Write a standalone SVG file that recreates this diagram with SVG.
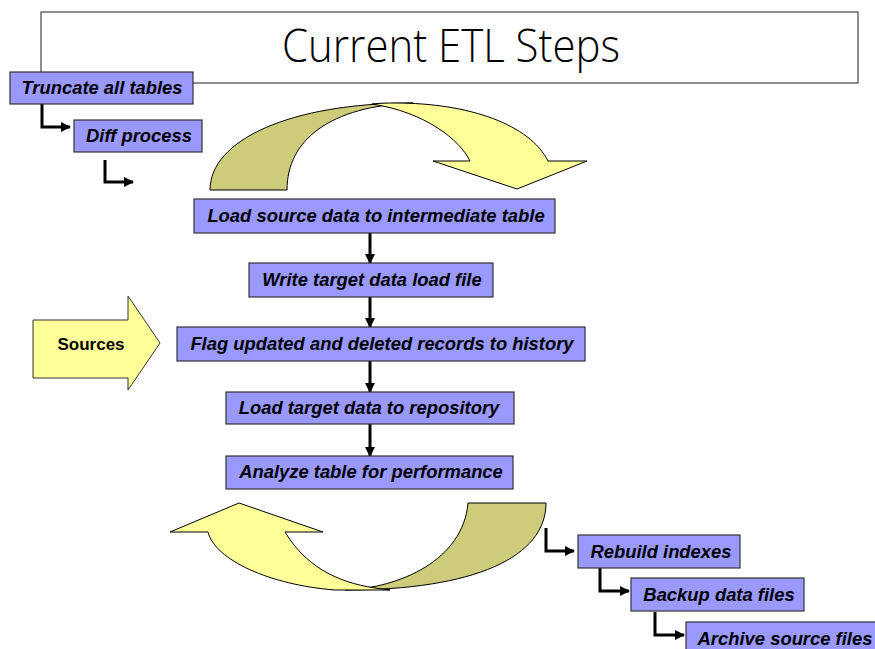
<svg xmlns="http://www.w3.org/2000/svg" width="875" height="649" viewBox="0 0 875 649">
<defs>
<marker id="ah" viewBox="0 0 10 10" refX="9" refY="5" markerWidth="3.4" markerHeight="3.4" orient="auto" markerUnits="strokeWidth">
<path d="M0,0 L10,5 L0,10 Z" fill="#000"/>
</marker>
<style>
.box{fill:#9999FF;stroke:#333;stroke-width:1.2}
.lbl{font-family:"Liberation Sans",Arial,sans-serif;font-size:18.4px;font-weight:bold;font-style:italic;fill:#000;text-anchor:middle}
.con{fill:none;stroke:#000;stroke-width:3;marker-end:url(#ah)}
.olive{fill:#CCCC7A;stroke:#000;stroke-width:1}
.yel{fill:#FFFF99;stroke:#000;stroke-width:1}
</style>
</defs>
<rect width="875" height="649" fill="#fff"/>
<g id="title">
<rect x="41" y="12" width="817" height="71" fill="#fff" stroke="#444" stroke-width="1.2"/>
<text x="451" y="62" font-family="'Open Sans','Liberation Sans',sans-serif" font-weight="300" font-size="46" text-anchor="middle" textLength="338" lengthAdjust="spacingAndGlyphs" fill="#000">Current ETL Steps</text>
</g>
<g id="top-arc">
<path class="olive" d="M210,190 C210,140 290,103 413,103 C330,106 287,140 287,190 Z"/>
<path class="yel" d="M372,104 C380,103 388,103 395,103 C470,103 530,125 548,161 L587,161 L517,189 L433,161 L470,161 C460,140 425,112 372,104 Z"/>
</g>
<g id="bottom-arc">
<path class="olive" d="M468,503 L546,503 C546,557 475,590 345,590 C400,588 463,560 468,503 Z"/>
<path class="yel" d="M239,503 L323,532 L285,532 C305,565 335,582 375,588 L390,590 L335,590 C270,585 215,560 208,532 L170,532 Z"/>
</g>
<g id="sources">
<path d="M33,320 L128,320 L128,296 L160,343 L128,390 L128,378 L33,378 Z" fill="#FFFF99" stroke="#333" stroke-width="1"/>
<text x="91" y="350" font-family="Liberation Sans,Arial,sans-serif" font-size="17" font-weight="bold" text-anchor="middle">Sources</text>
</g>
<g id="connectors">
<path class="con" d="M42,104 L42,127 L70,127"/>
<path class="con" d="M105,160 L105,182 L133,182"/>
<path class="con" d="M370,233 L370,263"/>
<path class="con" d="M370,297 L370,327"/>
<path class="con" d="M370,361 L370,392"/>
<path class="con" d="M370,424 L370,456"/>
<path class="con" d="M546,528 L546,551 L574,551"/>
<path class="con" d="M600,568 L600,591 L629,591"/>
<path class="con" d="M655,612 L655,635 L684,635"/>
</g>
<g id="n-truncate"><rect class="box" x="10" y="72" width="183" height="32"/><text class="lbl" x="102" y="94">Truncate all tables</text></g>
<g id="n-diff"><rect class="box" x="74" y="120" width="128" height="32"/><text class="lbl" x="139" y="142">Diff process</text></g>
<g id="n-load-source"><rect class="box" x="194" y="199" width="361" height="34"/><text class="lbl" x="376" y="222">Load source data to intermediate table</text></g>
<g id="n-write"><rect class="box" x="249" y="263" width="244" height="34"/><text class="lbl" x="372" y="286">Write target data load file</text></g>
<g id="n-flag"><rect class="box" x="177" y="327" width="408" height="34"/><text class="lbl" x="382" y="350">Flag updated and deleted records to history</text></g>
<g id="n-load-target"><rect class="box" x="226" y="392" width="288" height="32"/><text class="lbl" x="369" y="414">Load target data to repository</text></g>
<g id="n-analyze"><rect class="box" x="226" y="456" width="287" height="33"/><text class="lbl" x="371" y="478">Analyze table for performance</text></g>
<g id="n-rebuild"><rect class="box" x="578" y="535" width="162" height="33"/><text class="lbl" x="661" y="558">Rebuild indexes</text></g>
<g id="n-backup"><rect class="box" x="631" y="578" width="173" height="33"/><text class="lbl" x="719" y="601">Backup data files</text></g>
<g id="n-archive"><rect class="box" x="686" y="622" width="192" height="33"/><text class="lbl" x="785" y="645">Archive source files</text></g>
</svg>
